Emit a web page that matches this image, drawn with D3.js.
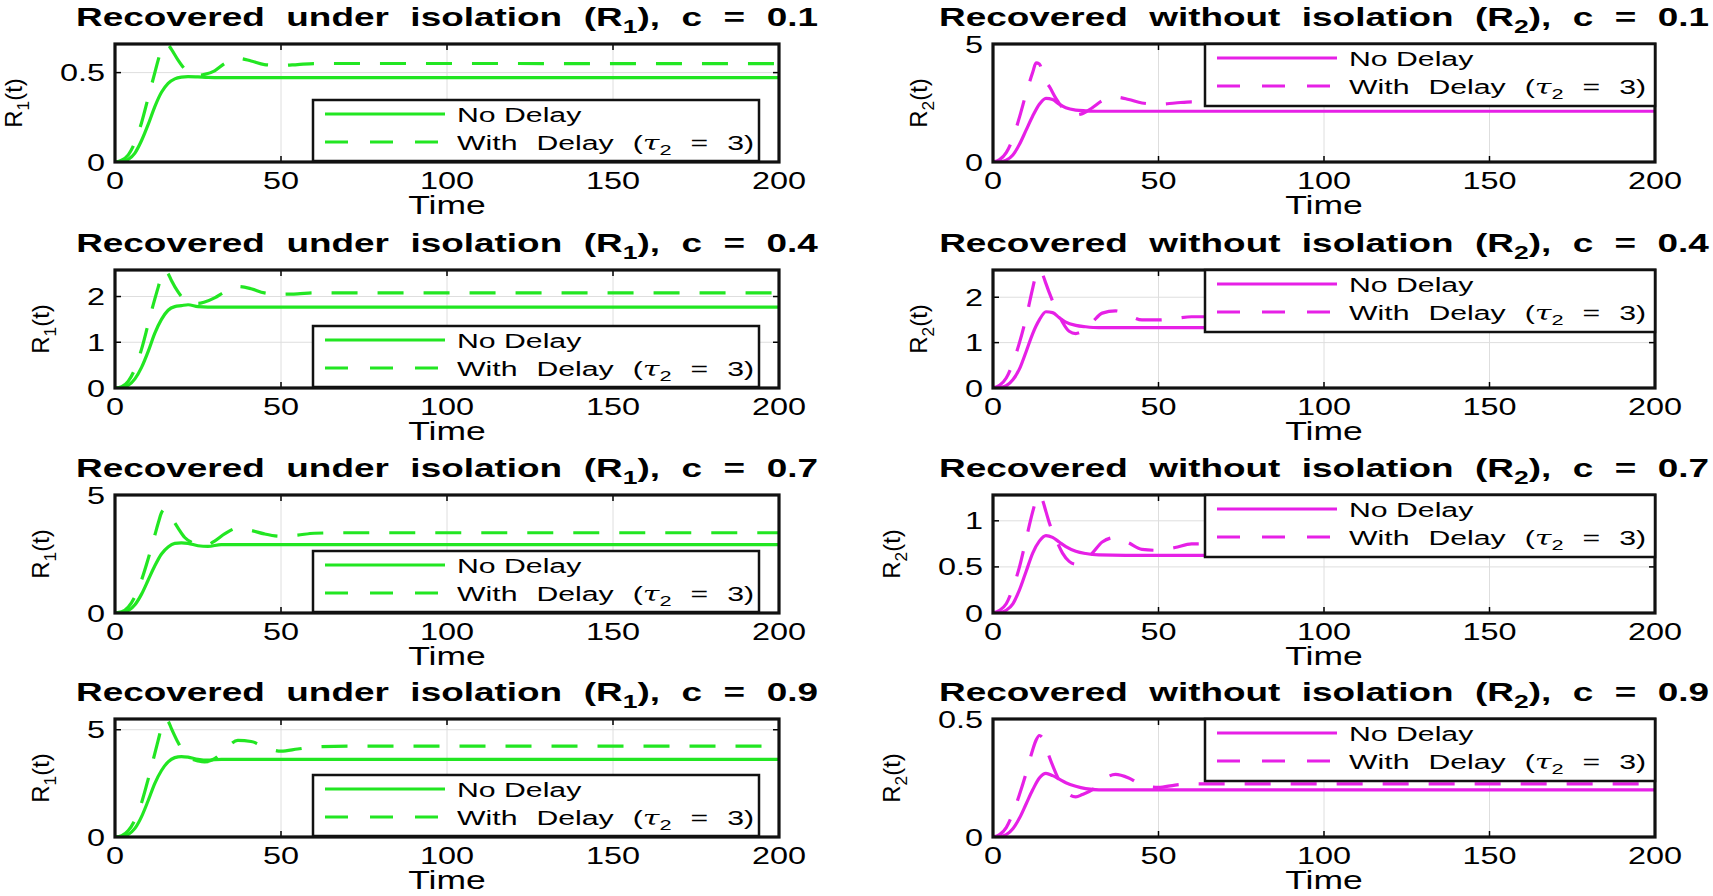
<!DOCTYPE html>
<html>
<head>
<meta charset="utf-8">
<script src="https://cdn.jsdelivr.net/npm/d3@7"></script>
<style>
  html, body { margin: 0; padding: 0; background: #fff; }
</style>
</head>
<body>
<script>
// ---------------- DATA ----------------
const timeNoDelay = [0, 2, 4, 6, 8, 10, 12, 14, 16, 18, 20, 22, 25, 28, 32, 40, 60, 200];
const timeDelay   = [0, 2, 4, 6, 8, 10, 12, 13, 14, 15, 16, 17, 19, 21, 23, 25, 27, 30, 33, 37, 41, 45, 50, 55, 60, 70, 200];

const cValues = ["0.1", "0.4", "0.7", "0.9"];
const xTicks = [0, 50, 100, 150, 200];

// R1 (recovered under isolation)
const r1NoDelay_c01 = [0, 0.003, 0.015, 0.05, 0.12, 0.21, 0.31, 0.39, 0.44, 0.465, 0.475, 0.478, 0.476, 0.473, 0.472, 0.472, 0.472, 0.472];
const r1Delay_c01   = [0, 0.01, 0.04, 0.11, 0.22, 0.36, 0.50, 0.57, 0.63, 0.66, 0.655, 0.63, 0.57, 0.52, 0.49, 0.485, 0.49, 0.51, 0.55, 0.58, 0.565, 0.545, 0.54, 0.545, 0.55, 0.551, 0.55];
const r1NoDelay_c04 = [0, 0.01, 0.06, 0.2, 0.45, 0.8, 1.2, 1.5, 1.7, 1.78, 1.8, 1.82, 1.78, 1.77, 1.77, 1.77, 1.77, 1.77];
const r1Delay_c04   = [0, 0.03, 0.15, 0.42, 0.85, 1.4, 1.95, 2.2, 2.45, 2.58, 2.5, 2.35, 2.1, 1.92, 1.85, 1.85, 1.88, 1.97, 2.1, 2.22, 2.17, 2.08, 2.05, 2.06, 2.08, 2.08, 2.08];
const r1NoDelay_c07 = [0, 0.02, 0.1, 0.35, 0.8, 1.4, 2.0, 2.5, 2.8, 2.95, 2.97, 2.95, 2.85, 2.82, 2.9, 2.9, 2.9, 2.9];
const r1Delay_c07   = [0, 0.05, 0.25, 0.7, 1.4, 2.3, 3.3, 3.8, 4.25, 4.4, 4.3, 4.05, 3.6, 3.2, 3.0, 2.9, 2.85, 3.05, 3.35, 3.6, 3.5, 3.35, 3.25, 3.3, 3.38, 3.4, 3.4];
const r1NoDelay_c09 = [0, 0.02, 0.12, 0.4, 0.95, 1.7, 2.5, 3.1, 3.5, 3.7, 3.75, 3.72, 3.62, 3.58, 3.62, 3.62, 3.62, 3.62];
const r1Delay_c09   = [0, 0.06, 0.3, 0.8, 1.6, 2.7, 3.9, 4.5, 5.1, 5.5, 5.4, 5.05, 4.4, 3.9, 3.65, 3.55, 3.5, 3.65, 4.05, 4.5, 4.45, 4.2, 4.0, 4.1, 4.2, 4.24, 4.24];

// R2 (recovered without isolation)
const r2NoDelay_c01 = [0, 0.01, 0.08, 0.3, 0.75, 1.35, 1.95, 2.45, 2.7, 2.65, 2.45, 2.3, 2.2, 2.17, 2.15, 2.15, 2.15, 2.15];
const r2Delay_c01   = [0, 0.1, 0.4, 1.0, 1.9, 2.9, 3.8, 4.2, 4.15, 3.8, 3.4, 3.2, 2.7, 2.3, 2.05, 2.0, 2.05, 2.3, 2.6, 2.75, 2.65, 2.5, 2.45, 2.5, 2.55, 2.55, 2.55];
const r2NoDelay_c04 = [0, 0.01, 0.05, 0.18, 0.42, 0.8, 1.2, 1.5, 1.68, 1.66, 1.55, 1.45, 1.38, 1.35, 1.33, 1.33, 1.33, 1.33];
const r2Delay_c04   = [0, 0.06, 0.22, 0.55, 1.0, 1.55, 2.2, 2.5, 2.6, 2.5, 2.3, 2.1, 1.75, 1.45, 1.25, 1.2, 1.25, 1.45, 1.65, 1.7, 1.6, 1.5, 1.5, 1.53, 1.57, 1.57, 1.57];
const r2NoDelay_c07 = [0, 0.005, 0.03, 0.1, 0.25, 0.45, 0.65, 0.78, 0.84, 0.82, 0.77, 0.72, 0.67, 0.645, 0.63, 0.625, 0.625, 0.625];
const r2Delay_c07   = [0, 0.03, 0.1, 0.27, 0.5, 0.8, 1.1, 1.22, 1.28, 1.22, 1.1, 0.98, 0.8, 0.65, 0.56, 0.53, 0.55, 0.65, 0.77, 0.82, 0.76, 0.69, 0.68, 0.71, 0.75, 0.75, 0.75];
const r2NoDelay_c09 = [0, 0.002, 0.01, 0.035, 0.08, 0.14, 0.2, 0.25, 0.27, 0.26, 0.245, 0.23, 0.215, 0.205, 0.2, 0.2, 0.2, 0.2];
const r2Delay_c09   = [0, 0.01, 0.04, 0.1, 0.18, 0.27, 0.37, 0.41, 0.43, 0.42, 0.38, 0.34, 0.27, 0.21, 0.18, 0.17, 0.18, 0.2, 0.24, 0.265, 0.25, 0.22, 0.21, 0.22, 0.225, 0.225, 0.225];

const r1YMax = [0.66, 2.58, 5, 5.5];
const r2YMax = [5, 2.6, 1.28, 0.5];
const r1YTicks = [[0, 0.5], [0, 1, 2], [0, 5], [0, 5]];
const r2YTicks = [[0, 5], [0, 1, 2], [0, 0.5, 1], [0, 0.5]];

const r1NoDelay = [r1NoDelay_c01, r1NoDelay_c04, r1NoDelay_c07, r1NoDelay_c09];
const r1Delay   = [r1Delay_c01, r1Delay_c04, r1Delay_c07, r1Delay_c09];
const r2NoDelay = [r2NoDelay_c01, r2NoDelay_c04, r2NoDelay_c07, r2NoDelay_c09];
const r2Delay   = [r2Delay_c01, r2Delay_c04, r2Delay_c07, r2Delay_c09];

// ---------------- LAYOUT / STYLE ----------------
const W = 1713, H = 896;
const SX = 1.35;                 // horizontal stretch of text seen in the reference
const FONT = "'Liberation Sans', Arial, Helvetica, sans-serif";
const GREEN = "#22e622", MAGENTA = "#e620e6";
const colX = [[115, 779], [993, 1655]];
const rowBottom = [162, 388, 613, 837];
const axH = 118;

const svg = d3.select("body").append("svg")
  .attr("width", W).attr("height", H)
  .style("background", "#fff")
  .style("font-family", FONT);

function richText(parent, x, y, parts, o) {
  const size = o.size, sx = o.sx === undefined ? SX : o.sx;
  const tr = o.rotate ? `translate(${x},${y}) rotate(${o.rotate})` : `translate(${x},${y}) scale(${sx},1)`;
  const t = parent.append("text")
    .attr("transform", tr)
    .attr("text-anchor", o.anchor || "middle")
    .attr("font-size", size)
    .attr("font-weight", o.weight || "normal")
    .attr("fill", "#000");
  const shift = size * 0.28;
  let pending = 0;
  parts.forEach(p => {
    const ts = t.append("tspan").text(p.t);
    if (p.sub) {
      ts.attr("font-size", size * 0.72).attr("dy", shift);
      pending = -shift;
    } else if (pending) {
      ts.attr("dy", pending); pending = 0;
    }
    if (p.italic) ts.attr("font-style", "italic").attr("font-family", "'DejaVu Serif', serif");
  });
  if (o.targetWidth) {
    const s = parts.map(p => p.t).join("");
    const gaps = (s.match(/ /g) || []).length;
    const w0 = t.node().getBBox().width;
    const ws = (o.targetWidth / sx - w0) / Math.max(gaps, 1);
    t.style("word-spacing", ws + "px");
  }
  return t;
}

for (let r = 0; r < 4; r++) {
  for (let c = 0; c < 2; c++) {
    const [x0, x1] = colX[c];
    const yb = rowBottom[r], yt = yb - axH;
    const yMax = c === 0 ? r1YMax[r] : r2YMax[r];
    const yTicks = c === 0 ? r1YTicks[r] : r2YTicks[r];
    const noDelay = c === 0 ? r1NoDelay[r] : r2NoDelay[r];
    const delay = c === 0 ? r1Delay[r] : r2Delay[r];
    const color = c === 0 ? GREEN : MAGENTA;
    const sub = c === 0 ? "1" : "2";

    const x = d3.scaleLinear().domain([0, 200]).range([x0, x1]);
    const y = d3.scaleLinear().domain([0, yMax]).range([yb, yt]);
    const g = svg.append("g");
    const clipId = `clip-${r}-${c}`;
    g.append("clipPath").attr("id", clipId)
      .append("rect").attr("x", x0).attr("y", yt).attr("width", x1 - x0).attr("height", yb - yt);

    // grid
    const grid = g.append("g").attr("stroke", "#dedede").attr("stroke-width", 1);
    xTicks.slice(1, -1).forEach(v => grid.append("line").attr("x1", x(v)).attr("x2", x(v)).attr("y1", yt).attr("y2", yb));
    yTicks.filter(v => v > 0 && v < yMax).forEach(v => grid.append("line").attr("x1", x0).attr("x2", x1).attr("y1", y(v)).attr("y2", y(v)));

    // lines
    const line = d3.line().x(d => x(d[0])).y(d => y(d[1])).curve(d3.curveMonotoneX);
    const lg = g.append("g").attr("clip-path", `url(#${clipId})`);
    lg.append("path").datum(timeNoDelay.map((t, i) => [t, noDelay[i]]))
      .attr("d", line).attr("fill", "none").attr("stroke", color).attr("stroke-width", 3.2);
    lg.append("path").datum(timeDelay.map((t, i) => [t, delay[i]]))
      .attr("d", line).attr("fill", "none").attr("stroke", color).attr("stroke-width", 3.2)
      .attr("stroke-dasharray", "26,20");

    // tick marks (inward, both sides)
    const tk = g.append("g").attr("stroke", "#000").attr("stroke-width", 1.5);
    xTicks.forEach(v => {
      tk.append("line").attr("x1", x(v)).attr("x2", x(v)).attr("y1", yb).attr("y2", yb - 6);
      tk.append("line").attr("x1", x(v)).attr("x2", x(v)).attr("y1", yt).attr("y2", yt + 6);
    });
    yTicks.forEach(v => {
      tk.append("line").attr("x1", x0).attr("x2", x0 + 6).attr("y1", y(v)).attr("y2", y(v));
      tk.append("line").attr("x1", x1).attr("x2", x1 - 6).attr("y1", y(v)).attr("y2", y(v));
    });

    // axes box
    g.append("rect").attr("x", x0).attr("y", yt).attr("width", x1 - x0).attr("height", yb - yt)
      .attr("fill", "none").attr("stroke", "#111").attr("stroke-width", 3.2);

    // tick labels
    xTicks.forEach(v => richText(g, x(v), yb + 18 + 8.5, [{ t: String(v) }], { size: 24 }));
    let tickLeft = x0;
    yTicks.forEach(v => {
      const t = richText(g, x0 - 10, y(v) + 8.5, [{ t: String(v) }], { size: 24, anchor: "end" });
      const w = t.node().getBBox().width * SX;
      tickLeft = Math.min(tickLeft, x0 - 10 - w);
    });

    // axis labels
    richText(g, (x0 + x1) / 2, yb + 52, [{ t: "Time" }], { size: 25, sx: 1.42 });
    richText(g, tickLeft - 46 + 8.5, (yt + yb) / 2,
      [{ t: "R" }, { t: sub, sub: true }, { t: "(t)" }], { size: 24, rotate: -90 });

    // title
    const titleWord = c === 0 ? "under" : "without";
    richText(g, (x0 + x1) / 2, yt - 28 + 9.5,
      [{ t: `Recovered ${titleWord} isolation (R` }, { t: sub, sub: true }, { t: `), c = ${cValues[r]}` }],
      { size: 26, weight: "bold", sx: 1.42, targetWidth: c === 0 ? 742 : 770 });

    // legend
    const lw = c === 0 ? 446 : 450, lh = c === 0 ? 61 : 62;
    const lx = c === 0 ? 313 : x1 - 450;
    const ly = c === 0 ? yb - 1 - lh : yt;
    const leg = g.append("g");
    leg.append("rect").attr("x", lx).attr("y", ly).attr("width", lw).attr("height", lh)
      .attr("fill", "#fff").attr("stroke", "#111").attr("stroke-width", 2.5);
    const rows = [ly + 14, ly + 42];
    leg.append("line").attr("x1", lx + 12).attr("x2", lx + 132).attr("y1", rows[0]).attr("y2", rows[0])
      .attr("stroke", color).attr("stroke-width", 3.2);
    leg.append("line").attr("x1", lx + 12).attr("x2", lx + 132).attr("y1", rows[1]).attr("y2", rows[1])
      .attr("stroke", color).attr("stroke-width", 3.2).attr("stroke-dasharray", "23,22");
    richText(leg, lx + 144, rows[0] + 7.5, [{ t: "No Delay" }], { size: 21, anchor: "start", sx: 1.44 });
    richText(leg, lx + 144, rows[1] + 7.5,
      [{ t: "With Delay (" }, { t: "τ", italic: true }, { t: "2", sub: true }, { t: " = 3)" }],
      { size: 21, anchor: "start", sx: 1.44, targetWidth: 297 });
  }
}
</script>
</body>
</html>
